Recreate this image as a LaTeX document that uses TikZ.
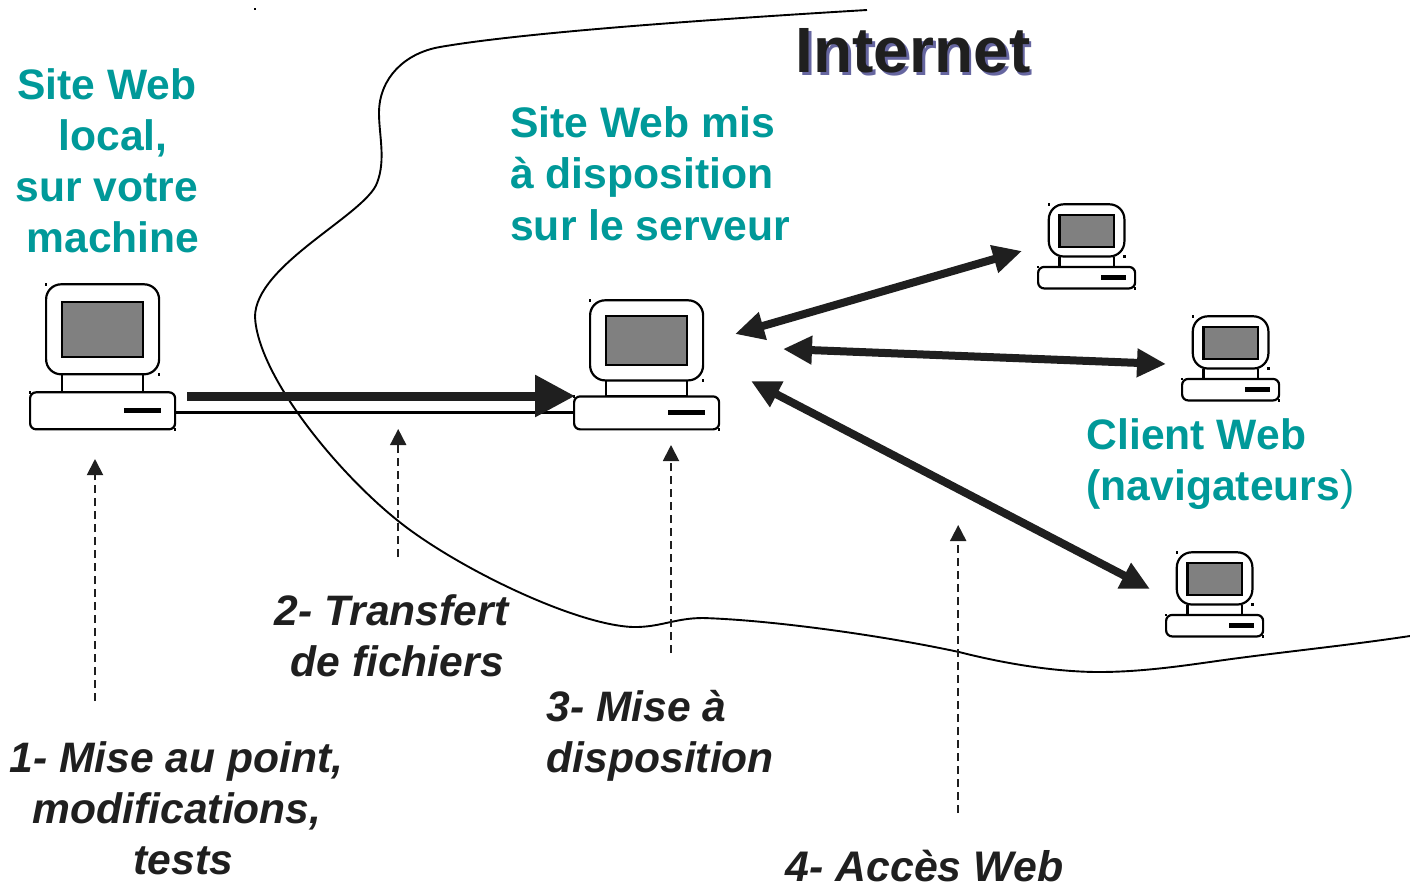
\documentclass[tikz,border=0pt]{standalone}
\usepackage{fontspec}
\setmainfont{Liberation Sans}
\usetikzlibrary{arrows.meta}
\definecolor{teal1}{RGB}{0,153,153}
\definecolor{ink}{RGB}{31,31,31}
\definecolor{shade}{RGB}{102,102,160}
\tikzset{
  x=1pt,y=-1pt,
  txt/.style={anchor=north west,inner sep=0pt,align=left,font=\fontsize{42.6}{51}\selectfont\bfseries},
  site/.style={txt,text=teal1},
  step label/.style={txt,text=ink,font=\fontsize{42.6}{51}\selectfont\bfseries\itshape},
  pcline/.style={draw=black,line width=2.2pt,fill=white},
  bigarrow/.style={ink,line width=8pt,{Triangle[length=29pt,width=27pt]}-{Triangle[length=29pt,width=27pt]}},
  dasharrow/.style={ink,line width=1.9pt,dash pattern=on 8pt off 5pt,-{Triangle[length=16pt,width=16pt]}},
  handle/.style={fill=black,inner sep=0pt,minimum size=2.4pt,shape=rectangle},
}
% name, x, y (top-left of the bounding box), xscale, yscale
\newcommand{\computer}[5]{%
  \begin{scope}[shift={(#2,#3)},xscale=#4,yscale=#5]
    \path[pcline] (32,90) -- (32,108) -- (113,108) -- (113,90);
    \path[pcline,rounded corners=15pt] (16,0) rectangle (129,90);
    \path[draw=black,line width=2.2pt,fill=black!50] (32,18) rectangle (113,73);
    \path[pcline,rounded corners=6pt] (0,108) rectangle (145,145);
    \path[draw=black,line width=5pt] (94,126.5) -- (131,126.5);
    \coordinate (#1-w) at (0,128);
    \coordinate (#1-e) at (145,128);
    \node[handle] at (16,0) {};
    \node[handle] at (129,90) {};
    \node[handle] at (0,108) {};
    \node[handle] at (145,145) {};
  \end{scope}}
\begin{document}
\begin{tikzpicture}
\useasboundingbox (0,0) rectangle (1410,884);
% Internet boundary
\draw[black,line width=1.9pt] (867,10) .. controls (700,20) and (520,33) .. (440,47)
  .. controls (405,53) and (379,78) .. (379,113)
  .. controls (379,135) and (386,160) .. (377,183)
  .. controls (365,215) and (255,265) .. (255,317)
  .. controls (258,375) and (335,470) .. (397,520)
  .. controls (455,567) and (575,625) .. (633,627)
  .. controls (660,627.5) and (675,618) .. (703,618)
  .. controls (770,620) and (880,635) .. (959,652)
  .. controls (1010,665) and (1060,672) .. (1099,672)
  .. controls (1150,672) and (1200,663) .. (1239,658)
  .. controls (1300,650) and (1350,645) .. (1410,636);
\node[handle] (speck) at (255,9) {};
% computers
\computer{local}{30.1}{284.3}{1}{1}
\computer{server}{574.1}{300.3}{1}{.89}
\computer{clientA}{1038.1}{204.3}{.669}{.58}
\computer{clientB}{1182.1}{316.3}{.669}{.58}
\computer{clientC}{1166.1}{552.3}{.669}{.58}
% connectors
\draw[black,line width=2.5pt] (local-e) -- (server-w |- local-e);
\coordinate (tA) at (187,396);
\coordinate (tB) at (575,396);
\draw[ink,line width=9pt,-{Triangle[length=40pt,width=40pt]}] (tA) -- (tB);
\coordinate (a1) at (735,334);
\coordinate (a2) at (1022,251);
\coordinate (b1) at (783,349);
\coordinate (b2) at (1166,364);
\coordinate (c1) at (751,381);
\coordinate (c2) at (1150,589);
\draw[bigarrow] (a1) -- (a2);
\draw[bigarrow] (b1) -- (b2);
\draw[bigarrow] (c1) -- (c2);
\coordinate (d1s) at (95,701);
\coordinate (d1e) at (95,459);
\coordinate (d2s) at (398.2,557);
\coordinate (d2e) at (398.2,429);
\coordinate (d3s) at (671,653);
\coordinate (d3e) at (671,445);
\coordinate (d4s) at (958.2,813);
\coordinate (d4e) at (958.2,525);
\draw[dasharrow] (d1s) -- (d1e);
\draw[dasharrow] (d2s) -- (d2e);
\draw[dasharrow] (d3s) -- (d3e);
\draw[dasharrow] (d4s) -- (d4e);
% labels
\node[txt,text=shade,font=\fontsize{64}{70}\selectfont\bfseries] (internetshadow) at (798,31) {Internet};
\node[txt,text=ink,font=\fontsize{64}{70}\selectfont\bfseries] (internet) at (795.5,28.5) {Internet};
\node[site] (sitelocal) at (15.3,68) {\hspace*{1.7pt}Site Web\\\hspace*{43pt}local,\\sur votre\\\hspace*{11pt}machine};
\node[site,font=\fontsize{42.7}{51.6}\selectfont\bfseries] (siteserver) at (510,106) {Site Web mis\\à disposition\\sur le serveur};
\node[site] (clients) at (1086.5,418) {Client Web\\(navigateurs{\fontseries{m}\selectfont)}};
\node[step label] (s1) at (9.5,741) {1- Mise au point,\\\hspace*{23pt}modifications,\\\hspace*{124pt}tests};
\node[step label] (s2) at (274.5,594) {2- Transfert\\\hspace*{16pt}de fichiers};
\node[step label] (s3) at (546.5,690) {3- Mise à\\disposition};
\node[step label,font=\fontsize{42.8}{51}\selectfont\bfseries\itshape] (s4) at (785.5,850) {4- Accès Web};
\end{tikzpicture}
\end{document}
